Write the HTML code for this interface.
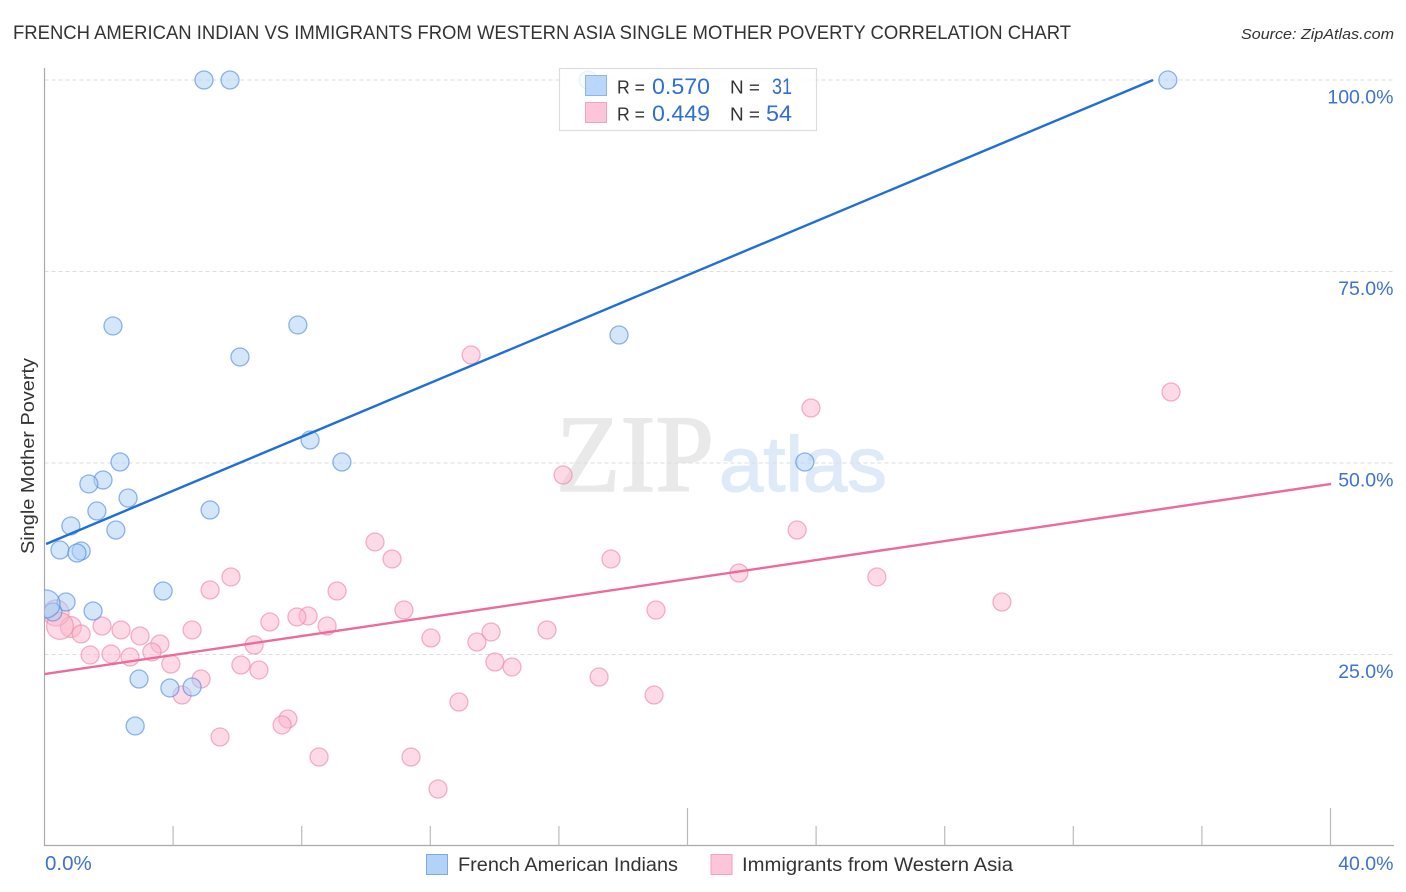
<!DOCTYPE html>
<html lang="en">
<head>
<meta charset="utf-8">
<title>French American Indian vs Immigrants from Western Asia Single Mother Poverty Correlation Chart</title>
<style>
html,body{margin:0;padding:0;background:#fff;width:1406px;height:892px;overflow:hidden}
svg{display:block;font-family:"Liberation Sans",sans-serif}
</style>
</head>
<body>
<svg id="chart" xmlns="http://www.w3.org/2000/svg" width="1406" height="892" viewBox="0 0 1406 892">
  <text x="13" y="39" font-size="19.5" fill="#333" textLength="1058" lengthAdjust="spacingAndGlyphs">FRENCH AMERICAN INDIAN VS IMMIGRANTS FROM WESTERN ASIA SINGLE MOTHER POVERTY CORRELATION CHART</text>
  <text x="1241" y="39" font-size="15" font-style="italic" fill="#333" textLength="153" lengthAdjust="spacingAndGlyphs">Source: ZipAtlas.com</text>

  <g id="watermark">
    <text x="556" y="491" font-family="'Liberation Serif',serif" font-size="110" fill="#e9e9e9" stroke="#e9e9e9" stroke-width="1.6" textLength="158" lengthAdjust="spacingAndGlyphs">ZIP</text>
    <text x="719" y="491" font-size="78" fill="#dfeaf9" stroke="#dfeaf9" stroke-width="1.2" textLength="168" lengthAdjust="spacingAndGlyphs">atlas</text>
  </g>

  <g id="grid"></g>
  <g id="axes">
    <line x1="44.5" y1="68" x2="44.5" y2="846" stroke="#aaa" stroke-width="1.2"/>
    <line x1="44" y1="845.5" x2="1394" y2="845.5" stroke="#aaa" stroke-width="1.2"/>
  </g>
  <g id="xticks"></g>
  <g id="ylabels"></g>
  <g id="xlabels"></g>

  <text transform="translate(34,554) rotate(-90)" font-size="18.5" fill="#333" textLength="196" lengthAdjust="spacingAndGlyphs">Single Mother Poverty</text>

  <defs>
    <clipPath id="plot-clip"><rect x="44.5" y="60" width="1360" height="786"/></clipPath>
  </defs>
  <g id="points-pink" clip-path="url(#plot-clip)"></g>
  <g id="points-blue" clip-path="url(#plot-clip)"></g>
  <line id="trend-blue" stroke="#1f6fd8" stroke-width="2.4"/>
  <line id="trend-pink" stroke="#ec6a9c" stroke-width="2.4"/>

  <g id="stats-legend">
    <rect x="559.5" y="68.5" width="257" height="62" fill="#fff" fill-opacity="0.82" stroke="#ddd" stroke-width="1.2"/>
    <rect x="585.5" y="75.5" width="21" height="20" fill="#b3d2f8" fill-opacity="0.9" stroke="#8db5e6"/>
    <rect x="585.5" y="102.5" width="21" height="20" fill="#fdc6d8" stroke="#f0a3bd"/>
    <text x="617" y="93.5" font-size="18.5" fill="#333" textLength="28" lengthAdjust="spacingAndGlyphs">R =</text>
    <text x="652" y="94" font-size="22" fill="#2f6fd0" textLength="58" lengthAdjust="spacingAndGlyphs">0.570</text>
    <text x="730" y="93.5" font-size="18.5" fill="#333" textLength="30" lengthAdjust="spacingAndGlyphs">N =</text>
    <text x="772" y="94" font-size="22" fill="#2f6fd0" textLength="20" lengthAdjust="spacingAndGlyphs">31</text>
    <text x="617" y="120.5" font-size="18.5" fill="#333" textLength="28" lengthAdjust="spacingAndGlyphs">R =</text>
    <text x="652" y="121" font-size="22" fill="#2f6fd0" textLength="58" lengthAdjust="spacingAndGlyphs">0.449</text>
    <text x="730" y="120.5" font-size="18.5" fill="#333" textLength="30" lengthAdjust="spacingAndGlyphs">N =</text>
    <text x="766" y="121" font-size="22" fill="#2f6fd0" textLength="26" lengthAdjust="spacingAndGlyphs">54</text>
  </g>

  <g id="bottom-legend">
    <g>
      <rect x="426.5" y="854.5" width="21" height="20" fill="#b3d2f8" stroke="#7fa9df"/>
      <text x="458" y="871" font-size="19" fill="#333" textLength="220" lengthAdjust="spacingAndGlyphs">French American Indians</text>
    </g>
    <g>
      <rect x="711" y="854.5" width="21" height="20" fill="#fdc6d8" stroke="#f0a3bd"/>
      <text x="742" y="871" font-size="19" fill="#333" textLength="271" lengthAdjust="spacingAndGlyphs">Immigrants from Western Asia</text>
    </g>
  </g>
</svg>
<script>
var yTickValues = [25, 50, 75, 100];
var yTickLabels = ["25.0%", "50.0%", "75.0%", "100.0%"];
var xTickValues = [0, 4, 8, 12, 16, 20, 24, 28, 32, 36, 40];
var xMajorTicks = [20, 40];
var xEdgeLabels = ["0.0%", "40.0%"];

var blueX = [4.96,5.77,16.91,34.94,2.13,7.88,6.08,17.87,8.26,9.25,23.65,2.35,1.82,1.38,2.60,1.63,5.15,0.82,2.22,0.48,1.14,1.01,3.69,0.67,1.51,0.26,0.05,2.94,3.90,4.59,2.82];
var blueY = [100,100,100,100,67.89,68.02,63.84,66.71,53.0,50.13,50.13,50.13,47.78,47.26,45.43,43.73,43.86,41.78,41.25,38.64,38.51,38.25,33.29,31.85,30.68,30.55,31.6,21.8,20.63,20.76,15.67];
var blueWeight = [1,1,1,1,1,1,1,1,1,1,1,1,1,1,1,1,1,1,1,1,1,1,1,1,1,1,2.4,1,1,1,1];

var pinkX = [13.27,35.04,23.84,16.13,23.41,10.28,10.81,17.62,21.60,5.80,25.89,5.15,9.10,29.78,11.18,19.02,8.20,7.85,7.01,8.79,15.63,13.89,12.02,13.45,1.79,2.38,4.59,2.97,0.82,1.14,0.36,0.48,6.52,3.59,1.42,2.07,2.66,3.34,3.93,6.11,6.67,14.01,14.54,17.25,4.87,4.28,18.96,12.89,7.57,7.39,5.46,8.54,11.40,12.24];
var pinkY = [64.10,59.27,57.18,48.43,41.25,39.69,37.47,37.47,35.64,35.12,35.12,33.42,33.29,31.85,30.81,30.81,30.03,29.90,29.24,28.72,28.20,27.94,27.15,26.63,28.72,28.20,28.20,27.42,28.59,27.68,30.42,28.72,26.24,26.37,24.93,25.07,24.67,25.33,23.76,23.63,22.98,24.02,23.37,22.06,21.80,19.71,19.71,18.80,16.58,15.80,14.23,11.62,11.62,7.44];
var pinkWeight = [1,1,1,1,1,1,1,1,1,1,1,1,1,1,1,1,1,1,1,1,1,1,1,1,1,1,1,1,1.35,1,2.1,2.2,1,1,1,1,1,1,1,1,1,1,1,1,1,1,1,1,1,1,1,1,1,1];

var blueTrendX = [0.05, 34.48];
var blueTrendY = [39.43, 100];
var pinkTrendX = [0, 40.02];
var pinkTrendY = [22.45, 47.26];

var NS = "http://www.w3.org/2000/svg";
function xScale(v) { return 44.5 + v * 32.15; }
function yScale(v) { return 846 - v * 7.66; }
function make(tag, attrs, parent) {
  var el = document.createElementNS(NS, tag);
  for (var k in attrs) { el.setAttribute(k, attrs[k]); }
  parent.appendChild(el);
  return el;
}

var gridG = document.getElementById("grid");
var ylabG = document.getElementById("ylabels");
yTickValues.forEach(function (v, i) {
  var gl = make("line", {x1: 44.5, x2: 1394, y1: yScale(v), y2: yScale(v), stroke: "#ddd", "stroke-width": 1, "stroke-dasharray": "4 3"}, gridG);
  
  
  var t = make("text", {x: 1393.5, y: yScale(v) + 23.5, "text-anchor": "end", "font-size": 19.5, fill: "#3d72d0"}, ylabG);
  
  
  t.textContent = yTickLabels[i];
});

var xtG = document.getElementById("xticks");
xTickValues.forEach(function (v) {
  if (v === 0) { return; }
  var top = xMajorTicks.indexOf(v) >= 0 ? 808 : 826;
  var tk = make("line", {x1: xScale(v), x2: xScale(v), y1: top, y2: 845, stroke: "#bbb", "stroke-width": 1.2}, xtG);
  
  
});

var xlG = document.getElementById("xlabels");
var xl0 = make("text", {x: 45, y: 870, "font-size": 20.5, fill: "#3d72d0"}, xlG);


xl0.textContent = xEdgeLabels[0];
var xl1 = make("text", {x: 1393.5, y: 870, "text-anchor": "end", "font-size": 19.5, fill: "#3d72d0"}, xlG);


xl1.textContent = xEdgeLabels[1];

function drawPoints(groupId, xs, ys, ws, fill, stroke) {
  var g = document.getElementById(groupId);
  xs.forEach(function (x, i) {
    var c = make("circle", {cx: xScale(x), cy: yScale(ys[i]), r: 9 * Math.sqrt(ws[i]), fill: fill, "fill-opacity": 0.5, stroke: stroke, "stroke-opacity": 0.62, "stroke-width": 1.3}, g);
    
    
  });
}
drawPoints("points-pink", pinkX, pinkY, pinkWeight, "#fbb6cc", "#eb86a8");
drawPoints("points-blue", blueX, blueY, blueWeight, "#a9cdf5", "#4f8bdc");

function drawTrend(id, xs, ys) {
  var l = document.getElementById(id);
  l.setAttribute("x1", xScale(xs[0]));
  l.setAttribute("y1", yScale(ys[0]));
  l.setAttribute("x2", xScale(xs[1]));
  l.setAttribute("y2", yScale(ys[1]));
}
drawTrend("trend-blue", blueTrendX, blueTrendY);
drawTrend("trend-pink", pinkTrendX, pinkTrendY);
</script>
</body>
</html>
